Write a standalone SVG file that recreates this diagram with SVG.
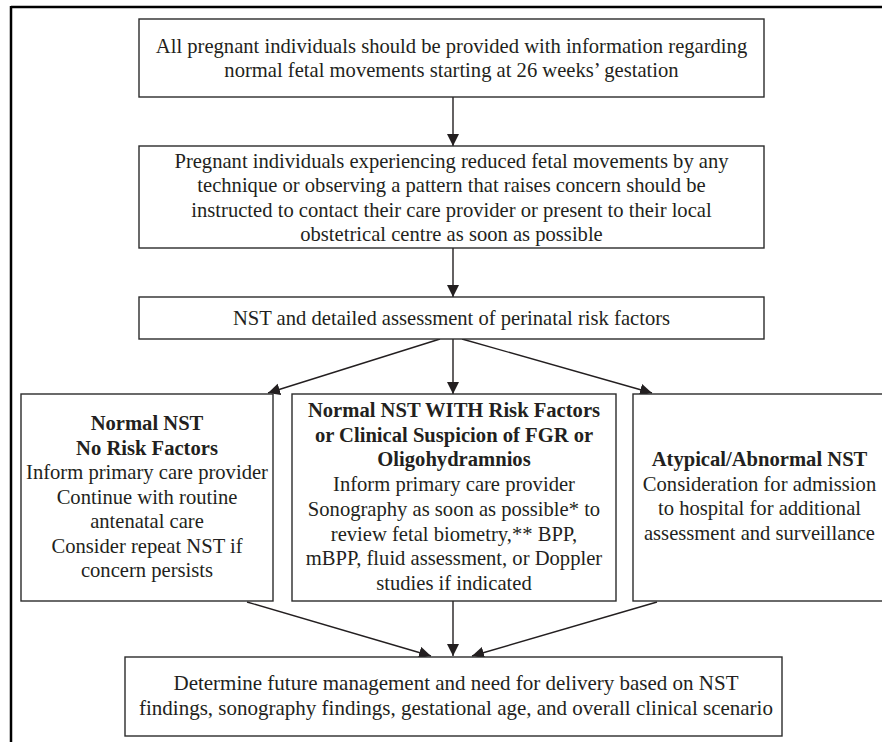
<svg xmlns="http://www.w3.org/2000/svg" width="882" height="742" viewBox="0 0 882 742">
<defs>
<style>
.box{fill:#ffffff;stroke:#2b2b2b;stroke-width:1.4}
.frame{stroke:#000000;stroke-width:2.5;fill:none}
text{font-family:"Liberation Serif","Times New Roman",serif;font-size:20.6px;fill:#231f20;text-anchor:middle}
.b{font-weight:bold}
.lg{font-size:21px}
.conn{stroke:#231f20;stroke-width:1.4;fill:none;marker-end:url(#ah)}
</style>
<marker id="ah" markerUnits="userSpaceOnUse" markerWidth="13" markerHeight="13" refX="12" refY="6" orient="auto">
<path d="M0,0 L12,6 L0,12 z" fill="#231f20"/>
</marker>
</defs>
<rect width="882" height="742" fill="#ffffff"/>
<g id="frame">
<line class="frame" x1="11" y1="7" x2="882" y2="7"/>
<line class="frame" x1="11" y1="6" x2="11" y2="742"/>
</g>
<g id="connectors">
<line class="conn" x1="453" y1="97" x2="453" y2="146"/>
<line class="conn" x1="453" y1="248" x2="453" y2="297"/>
<line class="conn" x1="440" y1="339" x2="268" y2="393"/>
<line class="conn" x1="453" y1="339" x2="453" y2="394"/>
<line class="conn" x1="462" y1="339" x2="652" y2="393"/>
<line class="conn" x1="247" y1="602" x2="431" y2="656"/>
<line class="conn" x1="453" y1="601" x2="453" y2="656"/>
<line class="conn" x1="657" y1="602" x2="472" y2="656"/>
</g>
<g id="n1">
<rect class="box" x="139" y="19" width="625" height="78"/>
<text x="451.5" y="53">All pregnant individuals should be provided with information regarding</text>
<text x="451.5" y="77">normal fetal movements starting at 26 weeks’ gestation</text>
</g>
<g id="n2">
<rect class="box" x="139" y="146" width="625" height="102"/>
<text x="451.5" y="167.5">Pregnant individuals experiencing reduced fetal movements by any</text>
<text x="451.5" y="192">technique or observing a pattern that raises concern should be</text>
<text x="451.5" y="216.5">instructed to contact their care provider or present to their local</text>
<text x="451.5" y="241">obstetrical centre as soon as possible</text>
</g>
<g id="n3">
<rect class="box" x="139" y="297" width="625" height="42"/>
<text x="451.5" y="325">NST and detailed assessment of perinatal risk factors</text>
</g>
<g id="n4">
<rect class="box" x="21" y="394" width="252" height="207"/>
<text class="b" x="147" y="430">Normal NST</text>
<text class="b" x="147" y="454.5">No Risk Factors</text>
<text x="147" y="479">Inform primary care provider</text>
<text x="147" y="503.5">Continue with routine</text>
<text x="147" y="528">antenatal care</text>
<text x="147" y="552.5">Consider repeat NST if</text>
<text x="147" y="577">concern persists</text>
</g>
<g id="n5">
<rect class="box" x="292" y="394" width="324" height="207"/>
<text class="b" x="454" y="417">Normal NST WITH Risk Factors</text>
<text class="b" x="454" y="441.7">or Clinical Suspicion of FGR or</text>
<text class="b" x="454" y="466.4">Oligohydramnios</text>
<text x="454" y="491.1">Inform primary care provider</text>
<text x="454" y="515.8">Sonography as soon as possible* to</text>
<text x="454" y="540.5">review fetal biometry,** BPP,</text>
<text x="454" y="565.2">mBPP, fluid assessment, or Doppler</text>
<text x="454" y="589.9">studies if indicated</text>
</g>
<g id="n6">
<rect class="box" x="633" y="394" width="253" height="207"/>
<text class="b" x="759.5" y="466">Atypical/Abnormal NST</text>
<text x="759.5" y="490.5">Consideration for admission</text>
<text x="759.5" y="515">to hospital for additional</text>
<text x="759.5" y="539.5">assessment and surveillance</text>
</g>
<g id="n7">
<rect class="box" x="125" y="657" width="657" height="79"/>
<text class="lg" x="456" y="690">Determine future management and need for delivery based on NST</text>
<text class="lg" x="456" y="714.5">findings, sonography findings, gestational age, and overall clinical scenario</text>
</g>
</svg>
